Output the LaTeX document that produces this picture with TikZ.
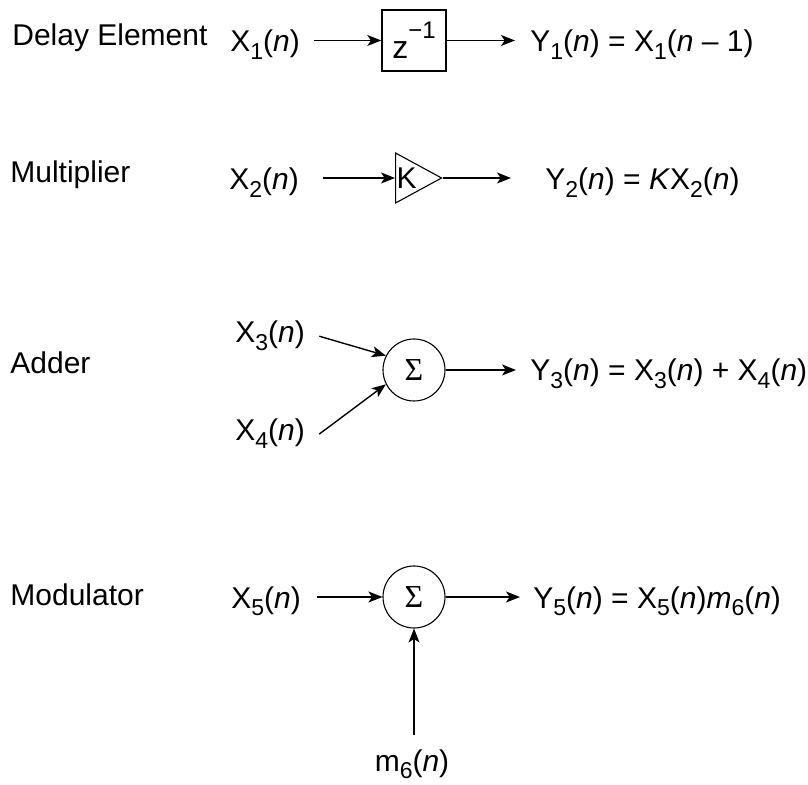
\documentclass[tikz,border=0pt]{standalone}
\usepackage{fontspec}
\setmainfont{Liberation Sans}
\newfontfamily\sigmafont{Liberation Serif}
\usetikzlibrary{arrows.meta,positioning,shapes.geometric}

\newcommand{\lowsub}[1]{\raisebox{-0.5ex}{\fontsize{11.5}{11.5}\selectfont #1}}
\newcommand{\sig}[2]{#1\lowsub{#2}(\textit{n})}

\begin{document}
\begin{tikzpicture}[x=0.5pt,y=-0.5pt,
  font=\fontsize{15}{18}\selectfont,
  txt/.style={inner sep=0pt, anchor=base west},
  blk/.style={draw, line width=0.75pt, minimum width=32pt, minimum height=30.5pt, inner sep=0pt,
    font=\fontsize{16}{16}\selectfont},
  amp/.style={draw, line width=0.55pt, isosceles triangle, isosceles triangle stretches,
    minimum width=25pt, minimum height=23pt, inner sep=0pt, anchor=west},
  sumnode/.style={draw, circle, line width=0.55pt, minimum size=31pt, inner sep=0pt,
    font=\sigmafont\fontsize{16}{16}\selectfont},
  sig/.style={-{Stealth[length=7pt,width=5.5pt,inset=1.8pt]}, line width=0.7pt}
]
\useasboundingbox (0,0) rectangle (808,785);

% delay element
\node[txt] (delaylbl) at (12,46) {Delay Element};
\node[txt] (x1) at (230,52) {\sig{X}{1}};
\node[blk] (delay) at (414,40.5) {\raisebox{-0.6ex}{z}\raisebox{0.6ex}{\fontsize{12}{12}\selectfont −1}};
\node[txt] (y1) at (530,52) {\sig{Y}{1} = X\lowsub{1}(\textit{n} – 1)};
\draw[sig] ([xshift=7pt]x1.east |- delay.west) -- (delay.west);
\draw[sig] (delay.east) -- ([xshift=-7.5pt]y1.west |- delay.east);

% multiplier
\node[txt] (mullbl) at (10,183) {Multiplier};
\node[txt] (x2) at (229,190) {\sig{X}{2}};
\node[amp] (mul) at (395,178) {};
\node[anchor=west, inner sep=0pt, font=\fontsize{15}{15}\selectfont] (gain) at ([xshift=0.6pt]mul.west) {K};
\node[txt] (y2) at (545,190) {\sig{Y}{2} = \textit{K}X\lowsub{2}(\textit{n})};
\draw[sig] ([xshift=12pt]x2.east |- mul.west) -- (mul.west);
\draw[sig] (mul.apex) -- ([xshift=-17pt]y2.west |- mul.apex);

% adder
\node[txt] (addlbl) at (10,374) {Adder};
\node[sumnode] (add) at (414,370) {Σ};
\node[txt] (x3) at (235,343) {\sig{X}{3}};
\node[txt] (x4) at (235,441) {\sig{X}{4}};
\node[txt] (y3) at (530,381) {\sig{Y}{3} = \sig{X}{3} + \sig{X}{4}};
\draw[sig] ([xshift=7pt]x3.east) -- (add.153);
\draw[sig] ([xshift=7pt]x4.east) -- (add.207);
\draw[sig] (add.east) -- ([xshift=-7pt]y3.west |- add.east);

% modulator
\node[txt] (modlbl) at (10,605) {Modulator};
\node[sumnode] (mod) at (414,597) {Σ};
\node[txt] (x5) at (231,608) {\sig{X}{5}};
\node[txt] (y5) at (533,608) {\sig{Y}{5} = \sig{X}{5}\textit{m}\lowsub{6}(\textit{n})};
\node[inner sep=0pt, anchor=base] (m6) at (412,771) {m\lowsub{6}(\textit{n})};
\draw[sig] ([yshift=7pt]m6.north -| mod.south) -- (mod.south);
\draw[sig] ([xshift=8pt]x5.east |- mod.west) -- (mod.west);
\draw[sig] (mod.east) -- ([xshift=-6.5pt]y5.west |- mod.east);

\end{tikzpicture}
\end{document}
